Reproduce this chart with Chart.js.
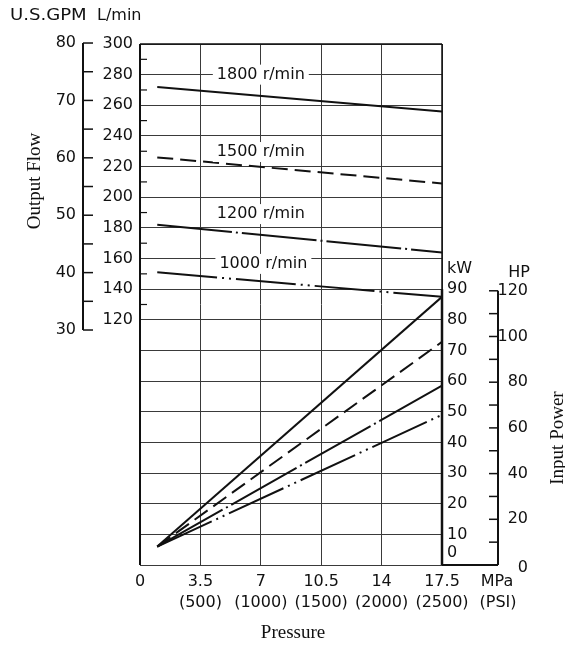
<!DOCTYPE html>
<html>
<head>
<meta charset="utf-8">
<title>Pump output flow / input power vs pressure</title>
<script src="https://cdn.jsdelivr.net/npm/chart.js"></script>
<style>
  html, body { margin: 0; padding: 0; background: #fff; }
  #wrap { width: 565px; height: 647px; }
</style>
</head>
<body>
<div id="wrap"><canvas id="chart" width="565" height="647"></canvas></div>
<script>
// pressure (MPa) at the two ends of every curve
const pressure = [1, 17.5];

// output flow, L/min
const flow1800 = [272, 256];
const flow1500 = [226, 209];
const flow1200 = [182, 164];
const flow1000 = [151, 135];

// input power, kW
const power1800 = [6, 87.5];
const power1500 = [6, 72.8];
const power1200 = [6, 58.5];
const power1000 = [6, 49];

const speeds = ['1800 r/min', '1500 r/min', '1200 r/min', '1000 r/min'];
const speedLabelP = [7, 7, 7, 7.15];          // label position, MPa
const speedLabelFlow = [280, 229.5, 189, 156.5]; // label position, L/min

const mpaTicks = [0, 3.5, 7, 10.5, 14, 17.5];
const psiTicks = [null, 500, 1000, 1500, 2000, 2500];
const lminTicks = [300, 280, 260, 240, 220, 200, 180, 160, 140, 120];
const gpmTicks = [80, 70, 60, 50, 40, 30];
const kwTicks = [90, 80, 70, 60, 50, 40, 30, 20, 10, 0];
const hpTicks = [120, 100, 80, 60, 40, 20, 0];

const SANS = '16px "DejaVu Sans"';
const SERIF = '19px "Liberation Serif"';

const solid = [];
const dashed = [16, 7];
const dashDot = [75, 4, 2, 4];
const dashDotDot = [60, 5, 2, 5, 2, 5];

function pts(ys) {
  return pressure.map((p, i) => ({ x: p, y: ys[i] }));
}

function line(data, dash, axis) {
  return {
    data: pts(data),
    yAxisID: axis,
    borderColor: '#111',
    borderWidth: 2,
    borderDash: dash,
    pointRadius: 0,
    fill: false,
    tension: 0
  };
}

function txt(ctx, s, x, y, align, font, sx) {
  ctx.save();
  ctx.font = font || SANS;
  ctx.textAlign = align || 'center';
  ctx.textBaseline = 'middle';
  ctx.fillStyle = '#111';
  ctx.translate(x, y);
  if (sx) ctx.scale(sx, 1);
  ctx.fillText(s, 0, 0);
  ctx.restore();
}

function seg(ctx, x1, y1, x2, y2, w) {
  ctx.lineWidth = w || 1.5;
  ctx.beginPath();
  ctx.moveTo(x1, y1);
  ctx.lineTo(x2, y2);
  ctx.stroke();
}

const decor = {
  id: 'decor',
  afterDraw(chart) {
    const ctx = chart.ctx;
    const a = chart.chartArea;
    const xs = chart.scales.x, ys = chart.scales.y;
    const kw = chart.scales.kw, hp = chart.scales.hp, gpm = chart.scales.gpm;
    ctx.save();
    ctx.strokeStyle = '#111';

    // frame
    seg(ctx, a.left, a.top, a.right, a.top, 1.5);
    seg(ctx, a.left, a.top, a.left, a.bottom, 2);
    seg(ctx, a.right, a.top, a.right, a.bottom, 1.5);
    seg(ctx, a.right, kw.getPixelForValue(90), a.right, a.bottom, 2.5);

    // header
    txt(ctx, 'U.S.GPM', 10, 16, 'left', SANS, 1.13);
    txt(ctx, 'L/min', 97, 16, 'left');

    // GPM axis
    const gx = 83;
    seg(ctx, gx, gpm.getPixelForValue(80), gx, gpm.getPixelForValue(30), 2);
    for (let v = 30; v <= 80; v += 5) {
      const y = gpm.getPixelForValue(v);
      seg(ctx, gx, y, gx + 10, y, 1.5);
    }
    gpmTicks.forEach(v => txt(ctx, String(v), 76, gpm.getPixelForValue(v), 'right'));

    // L/min labels and minor ticks
    lminTicks.forEach(v => txt(ctx, String(v), 133, ys.getPixelForValue(v), 'right'));
    for (let v = 290; v >= 130; v -= 20) {
      const y = ys.getPixelForValue(v);
      seg(ctx, a.left, y, a.left + 7, y, 1.2);
    }

    // kW labels
    txt(ctx, 'kW', 447, kw.getPixelForValue(90) - 20, 'left');
    kwTicks.forEach(v => {
      let y = kw.getPixelForValue(v);
      if (v === 0) y -= 12;
      txt(ctx, String(v), 447, y, 'left');
    });

    // HP axis
    const hx = 498;
    seg(ctx, hx, hp.getPixelForValue(120), hx, hp.getPixelForValue(0), 2);
    seg(ctx, a.right, a.bottom, hx, a.bottom, 2);
    for (let v = 10; v <= 120; v += 10) {
      const y = hp.getPixelForValue(v);
      seg(ctx, hx - 9, y, hx, y, 1.5);
    }
    txt(ctx, 'HP', 530, hp.getPixelForValue(120) - 18, 'right');
    hpTicks.forEach(v => {
      let y = hp.getPixelForValue(v);
      if (v === 0) y += 3;
      txt(ctx, String(v), 528, y, 'right');
    });

    // pressure labels
    mpaTicks.forEach((v, i) => {
      const x = xs.getPixelForValue(v);
      txt(ctx, String(v), x, 582);
      if (psiTicks[i]) txt(ctx, '(' + psiTicks[i] + ')', x, 603);
    });
    txt(ctx, 'MPa', 497, 582);
    txt(ctx, '(PSI)', 498, 603);

    // axis titles
    txt(ctx, 'Pressure', (a.left + a.right) / 2 + 2, 633, 'center', SERIF);
    ctx.save();
    ctx.translate(35, 181);
    ctx.rotate(-Math.PI / 2);
    txt(ctx, 'Output Flow', 0, 0, 'center', SERIF);
    ctx.restore();
    ctx.save();
    ctx.translate(558, 438);
    ctx.rotate(-Math.PI / 2);
    txt(ctx, 'Input Power', 0, 0, 'center', SERIF);
    ctx.restore();

    // speed labels on white boxes
    ctx.font = SANS;
    speeds.forEach((s, i) => {
      const x = xs.getPixelForValue(speedLabelP[i]);
      const y = ys.getPixelForValue(speedLabelFlow[i]);
      const w = ctx.measureText(s).width + 8;
      ctx.fillStyle = '#fff';
      ctx.fillRect(x - w / 2, y - 10, w, 20);
      txt(ctx, s, x, y);
    });

    ctx.restore();
  }
};

new Chart(document.getElementById('chart'), {
  type: 'line',
  data: {
    datasets: [
      line(flow1800, solid, 'y'),
      line(flow1500, dashed, 'y'),
      line(flow1200, dashDot, 'y'),
      line(flow1000, dashDotDot, 'y'),
      line(power1800, solid, 'kw'),
      line(power1500, dashed, 'kw'),
      line(power1200, dashDot, 'kw'),
      line(power1000, dashDotDot, 'kw')
    ]
  },
  options: {
    responsive: false,
    devicePixelRatio: 1,
    animation: false,
    layout: { padding: { left: 140, right: 123, top: 44, bottom: 82 } },
    plugins: { legend: { display: false }, tooltip: { enabled: false } },
    scales: {
      x: {
        type: 'linear', min: 0, max: 17.5,
        ticks: { stepSize: 3.5, display: false },
        grid: { color: '#3a3a3a', lineWidth: 1, drawTicks: false },
        border: { display: false },
        afterFit: s => { s.height = 0; }
      },
      y: {
        type: 'linear', min: -40, max: 300,
        ticks: { stepSize: 20, display: false },
        grid: { color: '#3a3a3a', lineWidth: 1, drawTicks: false },
        border: { display: false },
        afterFit: s => { s.width = 0; }
      },
      kw: { type: 'linear', axis: 'y', position: 'right', display: false, min: 0, max: 170 },
      hp: { type: 'linear', axis: 'y', position: 'right', display: false, min: 0, max: 228 },
      gpm: { type: 'linear', axis: 'y', position: 'left', display: false, min: -10.94, max: 79.83 }
    }
  },
  plugins: [decor]
});
</script>
</body>
</html>
